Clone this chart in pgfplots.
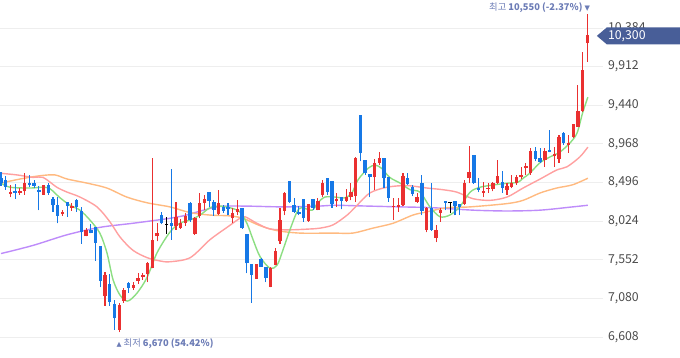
\documentclass[border=0pt]{standalone}
\usepackage{fontspec}
\setmainfont{Noto Sans CJK KR}
\newfontfamily\dv{DejaVu Sans}
\usepackage{pgfplots}
\usepackage{pgfplotstable}
\pgfplotsset{compat=1.18}
\definecolor{candred}{RGB}{234,48,48}
\definecolor{candblue}{RGB}{22,120,230}
\definecolor{maA}{RGB}{140,222,130}
\definecolor{maB}{RGB}{255,160,160}
\definecolor{maC}{RGB}{255,186,128}
\definecolor{maD}{RGB}{190,140,250}
\definecolor{gridc}{RGB}{238,238,238}
\definecolor{tickc}{RGB}{75,75,75}
\definecolor{tagc}{RGB}{72,94,152}
\definecolor{notec}{RGB}{108,124,182}

\pgfplotsset{
  candlepart/.style={only marks, mark=*, mark size=0pt, mark options={draw=none, fill=none}},
}

\pgfplotstableread{
i o h l c
0 8550 8630 8460 8490
1 8530 8580 8410 8440
2 8360 8470 8320 8380
3 8390 8480 8300 8370
4 8370 8430 8350 8390
5 8390 8610 8350 8490
6 8490 8590 8440 8470
7 8490 8530 8430 8460
8 8410 8460 8160 8380
9 8350 8470 8350 8470
10 8470 8490 8350 8370
11 8300 8320 8140 8220
12 8220 8320 8000 8090
13 8110 8160 8090 8140
14 8260 8260 8080 8210
15 8190 8250 8150 8210
16 8280 8300 8140 8200
17 8150 8200 7750 7890
18 7840 7940 7840 7920
19 7920 7990 7880 7880
20 7950 7950 7540 7760
21 7720 7720 7220 7300
22 7110 7410 6990 7370
23 7260 7380 6990 7040
24 7010 7060 6700 6840
25 6700 7030 6670 7000
26 7050 7210 7030 7190
27 7270 7280 7150 7210
28 7210 7280 7190 7250
29 7300 7390 7260 7330
30 7350 7390 7310 7370
31 7380 7530 7280 7510
32 7450 8800 7450 7800
33 7840 8000 7780 7880
34 8100 8140 7990 8000
36 8000 8660 7800 7970
37 7970 8260 7920 8080
38 7940 8050 7930 8000
39 8000 8130 7970 8090
40 8250 8260 8020 8040
41 7870 8080 7860 8060
42 8090 8370 8060 8250
43 8250 8350 8160 8300
44 8380 8380 8200 8270
45 8260 8280 8090 8160
46 8110 8410 8100 8250
47 8200 8220 8130 8150
48 8200 8250 8100 8180
49 8060 8190 8000 8130
50 8140 8280 8100 8170
51 8190 8190 7930 7940
52 7870 7870 7390 7510
53 7500 7500 7030 7370
54 7320 7500 7320 7500
55 7560 7580 7470 7470
56 7470 7470 7280 7330
57 7220 7470 7220 7450
58 7490 7700 7490 7660
59 7780 8190 7750 8040
60 8150 8380 8100 8370
61 8520 8520 8250 8260
62 8220 8310 8130 8140
63 8140 8210 8100 8110
64 8300 8300 8020 8060
65 8030 8240 8020 8240
66 8300 8300 8160 8190
67 8160 8310 8160 8270
68 8350 8530 8320 8490
69 8550 8550 8350 8380
70 8520 8520 8190 8240
71 8270 8370 8200 8300
72 8320 8320 8170 8270
73 8270 8420 8260 8320
74 8320 8490 8280 8380
75 8330 8810 8260 8800
76 9320 9320 8760 8860
77 8770 8770 8590 8610
78 8600 8600 8320 8560
79 8560 8790 8410 8740
80 8740 8870 8710 8800
81 8800 8800 8430 8550
82 8560 8560 8260 8310
83 8200 8310 8040 8210
84 8200 8310 8140 8220
85 8220 8610 8210 8580
86 8550 8610 8470 8480
87 8440 8470 8330 8360
88 8260 8370 8250 8320
89 8490 8590 8100 8150
90 7920 8200 7890 8190
91 8190 8490 7910 7920
92 7820 7980 7770 7920
93 8130 8190 8020 8160
94 8270 8270 8160 8250
96 8270 8270 8100 8210
97 8240 8240 8100 8200
98 8240 8530 8220 8490
99 8550 8940 8490 8630
100 8830 8830 8480 8490
101 8430 8550 8380 8410
102 8370 8500 8320 8390
103 8420 8490 8370 8430
104 8420 8500 8390 8490
105 8490 8770 8480 8580
106 8500 8640 8370 8430
107 8410 8490 8350 8450
108 8440 8590 8430 8490
109 8490 8590 8470 8560
110 8560 8690 8540 8590
111 8670 8740 8590 8700
112 8610 8920 8590 8880
113 8880 8930 8760 8790
114 8800 8920 8740 8750
115 8770 8920 8690 8880
116 8900 9140 8870 8870
117 8820 8930 8690 8850
118 8790 9080 8740 9050
119 9100 9110 8960 8980
120 8960 9080 8860 8980
121 9050 9210 9040 9210
122 9180 9690 9180 9370
123 9370 10090 9360 9870
124 10200 10550 9970 10300
}\candles

\pgfplotstableread{
i o h l c
35 7990 8080 7870 7990
95 8250 8260 8130 8250
}\dojis

\pgfplotstableread{
i v
0 8490
1.9 8440
6.1 8430
8.9 8440
10.4 8420
12.5 8310
14.6 8220
16.7 8160
18.8 8040
20.9 7880
22.4 7640
23.7 7310
25.2 7120
26.8 7050
28.8 7150
30.9 7340
33.0 7640
35.7 7890
37.8 8000
40.0 8040
42.1 8100
44.2 8190
46.3 8210
48.4 8190
50.5 8140
52.0 8000
53.3 7800
54.8 7590
56.9 7450
58.4 7490
59.6 7670
61.1 7920
62.6 8140
63.6 8190
65.8 8160
67.0 8250
68.5 8320
70.6 8320
72.7 8310
74.2 8370
75.5 8530
77.6 8670
79.1 8710
80.5 8670
82.2 8560
84.4 8490
86.5 8410
88.6 8380
90.7 8200
92.8 8080
94.9 8100
97.0 8200
99.2 8380
101.3 8440
104.4 8470
107.2 8490
109.3 8500
110.4 8550
111.8 8610
114.0 8740
116.1 8810
118.2 8870
120.3 8980
121.8 9100
123.0 9350
124.1 9540
}\maFive

\pgfplotstableread{
i v
0 8610
3.4 8590
6.8 8560
8.9 8560
11.8 8440
14.0 8380
16.7 8320
20.3 8200
23.0 8020
25.2 7830
27.9 7670
30.9 7580
33.6 7540
35.7 7530
40.0 7580
44.2 7800
47.8 7950
50.5 8060
51.6 8080
54.1 8000
56.9 7930
61.1 7920
65.3 7930
67.4 7940
70.2 7980
73.2 8100
75.3 8220
78.0 8370
81.6 8440
85.8 8460
90.1 8430
93.4 8410
96.4 8380
99.8 8300
103.4 8280
107.0 8320
110.4 8430
114.0 8540
117.5 8650
119.7 8690
122.4 8810
124.1 8930
}\maTwenty

\pgfplotstableread{
i v
0 8490
4.0 8540
8.2 8580
11.4 8590
14.0 8540
18.2 8490
22.4 8430
26.6 8320
30.9 8250
35.7 8200
40.0 8130
44.2 8100
48.4 8090
51.2 8060
54.8 7970
58.4 7910
63.2 7880
70.2 7880
74.4 7880
78.6 7940
82.9 8000
87.1 8100
90.1 8140
94.3 8190
99.2 8200
107.0 8240
110.4 8280
114.0 8370
117.5 8430
120.9 8470
124.1 8550
}\maSixty

\pgfplotstableread{
i v
0 7630
6.8 7730
14.0 7860
20.9 7950
27.9 8000
35.7 8060
38.5 8090
45.7 8200
51.2 8210
59.6 8200
67.4 8210
70.2 8220
77.4 8210
84.4 8200
91.3 8190
99.8 8160
107.0 8150
114.0 8160
120.9 8200
124.1 8220
}\maOneTwenty

\begin{document}
\begin{tikzpicture}
\useasboundingbox (0,0) rectangle (680pt,358pt);
\begin{axis}[
  at={(0,0)}, anchor=south west, scale only axis,
  width=603pt, height=358pt,
  xmin=-0.21, xmax=127.3, ymin=6355, ymax=10726,
  clip=false,
  axis line style={draw=none},
  xtick=\empty,
  ytick={6608,7080,7552,8024,8496,8968,9440,9912,10384},
  scaled y ticks=false,
  ymajorgrids, grid style={gridc, line width=1pt},
  major tick length=0pt,
  yticklabel pos=right,
  yticklabel style={anchor=west, xshift=1.5pt, text=tickc,
    font=\fontsize{12.3}{14}\selectfont,
    /pgf/number format/fixed, /pgf/number format/precision=0,
    /pgf/number format/1000 sep={,},
    /pgf/number format/assume math mode=true},
]
% moving averages
\addplot[maD, line width=1.4pt, smooth, mark=none] table[x=i, y=v] {\maOneTwenty};
\addplot[maC, line width=1.4pt, smooth, mark=none] table[x=i, y=v] {\maSixty};
\addplot[maB, line width=1.4pt, smooth, mark=none] table[x=i, y=v] {\maTwenty};
\addplot[maA, line width=1.4pt, smooth, mark=none] table[x=i, y=v] {\maFive};

% red candles: wicks and bodies
\addplot[candlepart, restrict expr to domain={\thisrow{c}-\thisrow{o}}{1:100000},
  error bars/.cd, y dir=plus, y explicit, error mark=none,
  error bar style={draw=candred, line width=1.1pt}]
  table[x=i, y=l, y error plus expr=\thisrow{h}-\thisrow{l}] {\candles};
\addplot[candlepart, restrict expr to domain={\thisrow{c}-\thisrow{o}}{1:100000},
  error bars/.cd, y dir=plus, y explicit, error mark=none,
  error bar style={draw=candred, line width=3.4pt}]
  table[x=i, y=o, y error plus expr=\thisrow{c}-\thisrow{o}] {\candles};

% blue candles
\addplot[candlepart, restrict expr to domain={\thisrow{o}-\thisrow{c}}{1:100000},
  error bars/.cd, y dir=plus, y explicit, error mark=none,
  error bar style={draw=candblue, line width=1.1pt}]
  table[x=i, y=l, y error plus expr=\thisrow{h}-\thisrow{l}] {\candles};
\addplot[candlepart, restrict expr to domain={\thisrow{o}-\thisrow{c}}{1:100000},
  error bars/.cd, y dir=plus, y explicit, error mark=none,
  error bar style={draw=candblue, line width=3.4pt}]
  table[x=i, y=c, y error plus expr=\thisrow{o}-\thisrow{c}] {\candles};

% doji (open = close)
\addplot[candlepart,
  error bars/.cd, y dir=plus, y explicit, error mark=none,
  error bar style={draw=black, line width=1.1pt}]
  table[x=i, y=l, y error plus expr=\thisrow{h}-\thisrow{l}] {\dojis};
\addplot[only marks, mark=-, mark size=1.8pt, mark options={draw=black, line width=1.1pt}]
  table[x=i, y=c] {\dojis};

\coordinate (tagpt) at (axis cs:126.0,10300);
\coordinate (hipt) at (axis cs:124,10550);
\coordinate (lopt) at (axis cs:25,6670);
\end{axis}

% current price tag
\fill[tagc] ([yshift=-1pt]tagpt) -- ++(10pt,8.5pt) -- ++(73pt,0pt) -- ++(0pt,-17pt) -- ++(-73pt,0pt) -- cycle;
\node[anchor=west, inner sep=0pt, text=white, font=\fontsize{12.3}{14}\selectfont]
  at ([xshift=11pt,yshift=-1pt]tagpt) {10,300};

% high / low notes
\node[anchor=south east, inner sep=0pt, text=notec, font=\fontsize{9.3}{11}\selectfont]
  at ([xshift=2.8pt,yshift=1.5pt]hipt) {최고 \textbf{10,550 (-2.37\%)} {\fontsize{7}{8}\selectfont\dv ▼}};
\node[anchor=north west, inner sep=0pt, text=notec, font=\fontsize{9.3}{11}\selectfont]
  at ([xshift=-2.8pt,yshift=-6pt]lopt) {{\fontsize{6.5}{8}\selectfont\dv ▲} 최저 \textbf{6,670 (54.42\%)}};
\end{tikzpicture}
\end{document}
